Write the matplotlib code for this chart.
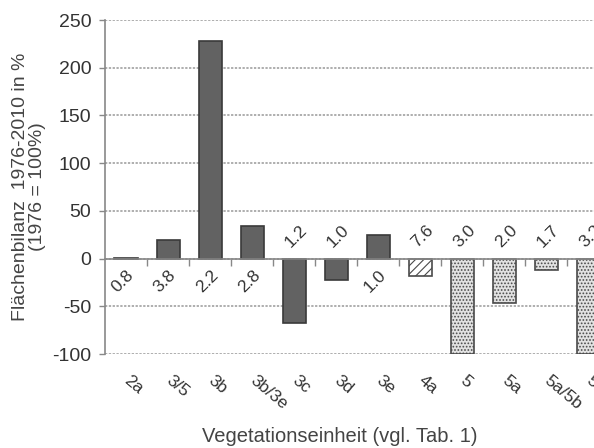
import matplotlib
matplotlib.use("Agg")
import matplotlib.pyplot as plt

plt.rcParams['font.family'] = ['Liberation Sans', 'DejaVu Sans']
plt.rcParams['hatch.linewidth'] = 0.8
plt.rcParams['axes.unicode_minus'] = False

# data
categories = ['2a', '3/5', '3b', '3b/3e', '3c', '3d', '3e', '4a', '5', '5a', '5a/5b', '5b']
values = [0.5, 20, 228, 34, -68, -22, 25, -18, -100, -47, -12, -100]
area_labels = ['0.8', '3.8', '2.2', '2.8', '1.2', '1.0', '1.0', '7.6', '3.0', '2.0', '1.7', '3.2']
groups = ['dark', 'dark', 'dark', 'dark', 'dark', 'dark', 'dark', 'hatch', 'dot', 'dot', 'dot', 'dot']
yticks = [-100, -50, 0, 50, 100, 150, 200, 250]

styles = {
    'dark': dict(facecolor='#626262', edgecolor='#3a3a3a', hatch=None),
    'hatch': dict(facecolor='white', edgecolor='#4a4a4a', hatch='////'),
    'dot': dict(facecolor='#e2e2e2', edgecolor='#4a4a4a', hatch='.....'),
}

fig = plt.figure(figsize=(5.94, 4.48), dpi=100)
ax = fig.add_axes([0.1768, 0.2098, 0.849, 0.7455])

x = list(range(len(categories)))
for i, (v, g) in enumerate(zip(values, groups)):
    ax.bar(i, v, width=0.55, linewidth=1.2, zorder=3, **styles[g])

ax.set_xlim(-0.5, len(categories) - 0.5)
ax.set_ylim(-100, 250)
ax.set_yticks(yticks)
ax.tick_params(axis='y', labelsize=14, colors='#333333', length=4, width=1,
               color='#888888', pad=6)

ax.yaxis.grid(True, color='#999999', linestyle=(0, (1.5, 1)), linewidth=1.1, zorder=1)
for s in ['top', 'right']:
    ax.spines[s].set_visible(False)
ax.spines['left'].set_color('#888888')
ax.spines['left'].set_linewidth(1.2)

# zero line with ticks between categories
ax.spines['bottom'].set_position(('data', 0))
ax.spines['bottom'].set_color('#888888')
ax.spines['bottom'].set_linewidth(1.2)
ax.spines['bottom'].set_zorder(4)
ax.set_xticks(x)
ax.set_xticklabels([])
ax.tick_params(axis='x', which='major', length=0)
ax.set_xticks([i + 0.5 for i in x], minor=True)
ax.tick_params(axis='x', which='minor', length=5, width=1, color='#888888', direction='out')

# category labels at the bottom
sec = ax.secondary_xaxis('bottom')
sec.set_xticks(x)
sec.set_xticklabels(categories, rotation=-40, rotation_mode='anchor', ha='left', va='center',
                    fontsize=12.5, color='#333333')
sec.tick_params(length=0, pad=18)
sec.spines['bottom'].set_visible(False)

# value labels
for i, (v, lab) in enumerate(zip(values, area_labels)):
    off = -23 if v > 0 else 22
    ax.annotate(lab, xy=(i, 0), xytext=(2 if v < 0 else -3, off), textcoords='offset pixels',
                rotation=45, ha='center', va='center', fontsize=12.5, color='#333333', zorder=5)

ax.set_ylabel('Flächenbilanz  1976-2010 in %\n(1976 = 100%)', fontsize=14, color='#444444',
              linespacing=1.0, labelpad=4)
fig.text(0.572, 0.0246, 'Vegetationseinheit (vgl. Tab. 1)', ha='center', va='center',
         fontsize=14.5, color='#444444')

fig.savefig('out.png', dpi=100)
